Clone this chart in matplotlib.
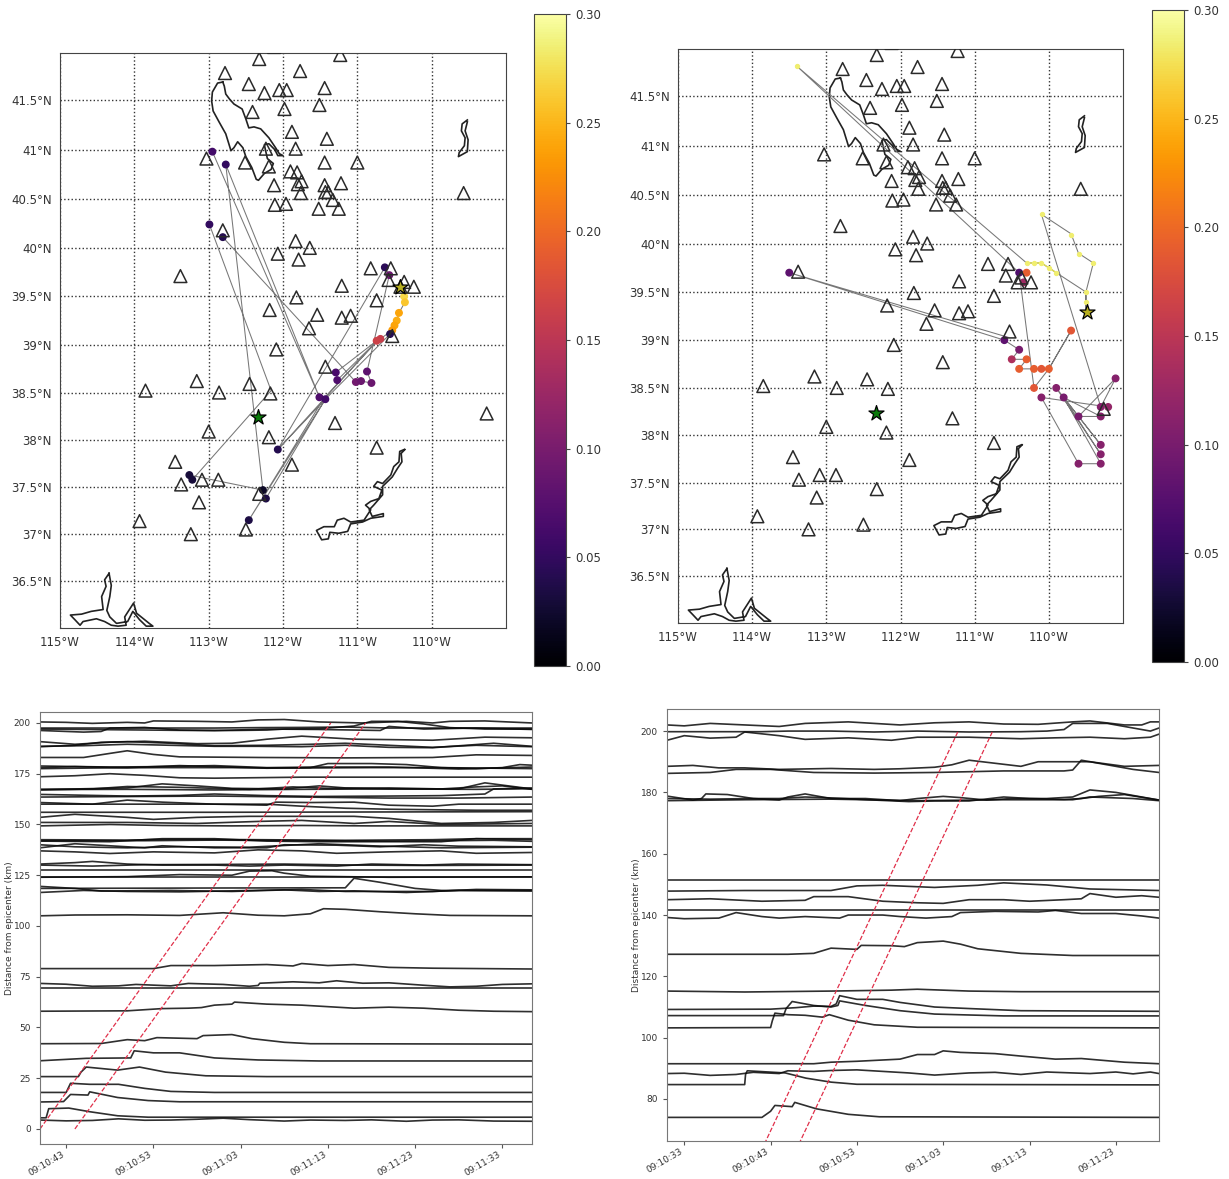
import numpy as np
import pandas as pd
import matplotlib
matplotlib.use('Agg')
import matplotlib.pyplot as plt
import matplotlib.dates as mdates

# stations, same for both maps
sta_lon = [-112.32,-111.23,-112.78,-111.77,-112.46,-112.25,-112.05,-111.95,-111.44,-111.51,-112.41,-111.98,-111.88,-111.41,-112.23,-111.83,-113.03,-112.51,-112.19,-111.44,-111.0,-111.90,-111.81,-111.75,-111.80,-112.12,-111.44,-111.22,-111.76,-111.43,-111.39,-111.33,-112.11,-111.96,-111.52,-111.25,-109.57,-112.81,-111.83,-111.64,-112.07,-111.79,-113.38,-110.82,-110.55,-110.58,-111.21,-110.37,-110.42,-110.24,-111.82,-110.74,-112.18,-111.54,-111.21,-111.09,-111.65,-110.53,-112.09,-111.43,-113.16,-112.45,-113.85,-112.86,-112.17,-111.30,-109.26,-113.0,-112.19,-110.74,-113.45,-111.88,-113.09,-112.87,-113.37,-112.32,-113.13,-113.93,-112.5,-113.24,-112.12]
sta_lat = [41.91,41.95,41.77,41.79,41.66,41.57,41.6,41.6,41.62,41.45,41.38,41.41,41.18,41.11,41.01,41.01,40.91,40.87,40.83,40.87,40.87,40.78,40.77,40.68,40.65,40.64,40.64,40.66,40.56,40.57,40.57,40.49,40.44,40.45,40.40,40.40,40.56,40.18,40.07,40.0,39.94,39.88,39.71,39.79,39.79,39.67,39.61,39.65,39.6,39.60,39.49,39.46,39.36,39.31,39.28,39.30,39.17,39.09,38.95,38.77,38.62,38.59,38.52,38.50,38.49,38.18,38.28,38.09,38.03,37.92,37.77,37.74,37.58,37.58,37.53,37.43,37.34,37.14,37.05,37.0,42.03]

# lake outlines
salt_lon = [-112.81,-112.88,-112.95,-112.96,-112.94,-112.86,-112.77,-112.70,-112.66,-112.61,-112.54,-112.50,-112.42,-112.36,-112.33,-112.25,-112.16,-112.13,-112.21,-112.24,-112.25,-112.19,-112.11,-112.07,-112.0,-112.05,-112.10,-112.19,-112.30,-112.39,-112.46,-112.50,-112.55,-112.66,-112.72,-112.77,-112.79,-112.81]
salt_lat = [41.68,41.67,41.58,41.49,41.39,41.28,41.16,40.99,41.02,41.08,41.02,40.93,40.82,40.70,40.69,40.76,40.80,40.86,40.91,41.01,41.05,41.06,41.0,40.94,40.94,40.96,41.02,41.12,41.21,41.23,41.22,41.31,41.41,41.46,41.51,41.56,41.64,41.68]
gorge_lon = [-109.52,-109.59,-109.60,-109.55,-109.56,-109.63,-109.64,-109.52,-109.51,-109.55,-109.52]
gorge_lat = [41.30,41.26,41.19,41.12,41.04,40.97,40.93,40.98,41.10,41.19,41.28]
powell_lon = [-110.37,-110.43,-110.44,-110.51,-110.55,-110.66,-110.73,-110.78,-110.67,-110.71,-110.82,-110.89,-110.82,-110.91,-111.09,-111.18,-111.27,-111.31,-111.45,-111.55,-111.48,-111.39,-111.37,-111.25,-111.13,-111.09,-110.93,-110.82,-110.65,-110.65,-110.80,-110.84,-110.78,-110.66,-110.66,-110.53,-110.46,-110.40,-110.41,-110.36]
powell_lat = [37.90,37.88,37.77,37.72,37.63,37.54,37.56,37.51,37.47,37.38,37.35,37.31,37.26,37.15,37.13,37.17,37.15,37.08,37.08,37.04,36.94,36.95,37.02,37.01,37.03,37.11,37.13,37.17,37.19,37.22,37.19,37.26,37.31,37.42,37.51,37.61,37.70,37.77,37.86,37.90]
mead_lon = [-114.34,-114.40,-114.38,-114.44,-114.42,-114.58,-114.71,-114.86,-114.80,-114.73,-114.69,-114.51,-114.40,-114.31,-114.22,-114.11,-114.13,-114.01,-113.97,-113.80,-113.75,-113.84,-113.93,-114.02,-114.09,-114.24,-114.33,-114.37,-114.33,-114.31,-114.34]
mead_lat = [36.58,36.51,36.44,36.33,36.19,36.17,36.14,36.13,36.08,36.02,36.06,36.09,36.06,36.02,36.01,36.02,36.11,36.26,36.15,36.04,36.01,36.01,36.08,36.17,36.06,36.04,36.11,36.18,36.33,36.45,36.58]

# left map: tremor path and points
path1_lon = [-110.42,-110.37,-110.36,-110.44,-110.47,-110.5,-110.53,-110.69,-110.74,-111.29,-111.27,-110.72,-112.07,-110.63,-110.57,-110.87,-110.81,-110.95,-111.02,-112.81,np.nan,-110.56,-111.43,-112.46,-111.45,-110.72,np.nan,-112.07,-111.43,np.nan,-112.95,-111.51,-112.77,-112.27,-113.26,-113.22,-112.16,-112.99,np.nan,-112.23,-111.43]
path1_lat = [39.6,39.5,39.44,39.33,39.25,39.2,39.15,39.06,39.04,38.71,38.63,39.05,37.90,39.8,39.72,38.72,38.60,38.62,38.61,40.11,np.nan,39.11,38.43,37.15,38.44,39.05,np.nan,37.90,38.43,np.nan,40.98,38.45,40.85,37.47,37.63,37.58,38.52,40.24,np.nan,37.38,38.43]
ev1_lon = [-110.37,-110.36,-110.44,-110.47,-110.5,-110.53,-110.69,-110.74,-112.95,-112.77,-112.99,-112.81,-110.63,-110.57,-110.56,-111.51,-111.43,-111.29,-111.27,-111.02,-110.95,-110.87,-110.81,-112.07,-113.26,-113.22,-112.27,-112.23,-112.46]
ev1_lat = [39.5,39.44,39.33,39.25,39.2,39.15,39.06,39.04,40.98,40.85,40.24,40.11,39.8,39.72,39.11,38.45,38.43,38.71,38.63,38.61,38.62,38.72,38.60,37.90,37.63,37.58,37.47,37.38,37.15]
ev1_val = [0.27,0.26,0.24,0.245,0.24,0.235,0.16,0.165,0.06,0.05,0.05,0.04,0.045,0.09,0.04,0.07,0.06,0.065,0.07,0.095,0.09,0.08,0.09,0.04,0.03,0.03,0.02,0.035,0.035]

# right map
path2_lon = [-109.5,-109.5,-109.4,-109.6,-109.7,-110.1,-109.3,-109.1,-109.6,-109.3,-109.8,-109.3,-109.9,-109.3,-109.8,-109.3,-109.6,-110.1,-109.2,np.nan,-109.5,-109.5,-109.9,-110.1,-110.3,-113.4,-110.4,-110.2,-110.0,-109.7,-110.0,-110.1,-110.2,-110.4,-110.3,-110.5,-110.4,-110.6,-113.5,-110.55]
path2_lat = [39.29,39.5,39.8,39.9,40.1,40.3,38.3,38.6,38.2,38.2,38.4,37.9,38.5,37.8,38.4,37.7,37.7,38.4,38.3,np.nan,39.29,39.5,39.7,39.8,39.8,41.8,39.7,38.5,38.7,39.1,38.7,38.7,38.7,38.7,38.8,38.8,38.9,39.0,39.7,39.03]
ev2_lon = [-110.4,-110.3,-110.34,-110.6,-113.5,-110.4,-110.5,-110.3,-110.4,-110.2,-110.1,-110.0,-110.2,-109.7,-109.9,-109.8,-110.1,-109.6,-109.3,-109.3,-109.2,-109.1,-109.3,-109.3,-109.3,-109.6]
ev2_lat = [39.7,39.7,39.6,39.0,39.7,38.9,38.8,38.8,38.7,38.7,38.7,38.7,38.5,39.1,38.5,38.4,38.4,38.2,38.2,38.3,38.3,38.6,37.9,37.8,37.7,37.7]
ev2_val = [0.07,0.19,0.13,0.08,0.08,0.10,0.14,0.19,0.19,0.19,0.185,0.19,0.185,0.185,0.11,0.10,0.11,0.10,0.11,0.11,0.12,0.11,0.11,0.11,0.11,0.11]
yellow_lon = [-113.4,-110.09,-109.4,-109.59,-109.7,-110.3,-110.2,-110.1,-110.0,-109.9,-109.5,-109.5]
yellow_lat = [41.8,40.3,39.8,39.89,40.09,39.8,39.8,39.8,39.75,39.7,39.5,39.4]

star_green = (-112.33, 38.24)
star1 = (-110.42, 39.6)
star2 = (-109.49, 39.29)

lon_ticks = [-115,-114,-113,-112,-111,-110]
lon_labels = ['115°W','114°W','113°W','112°W','111°W','110°W']
lat_ticks = [36.5,37,37.5,38,38.5,39,39.5,40,40.5,41,41.5]
lat_labels = ['36.5°N','37°N','37.5°N','38°N','38.5°N','39°N','39.5°N','40°N','40.5°N','41°N','41.5°N']
cb_ticks = [0,0.05,0.10,0.15,0.20,0.25,0.30]

# wiggle plots, each trace is (seconds after 09:10:00, km)
traces_left = [
 [(40,4.4),(43,4.0),(46,4.2),(49,5.0),(52,4.3),(55,4.4),(58,4.8),(61,5.3),(64,4.6),(68,3.9),(71,4.4),(75,4.2),(78,4.5),(82,3.8),(85,4.4),(88,4.5),(92,3.9),(96.4,3.8)],
 [(40,5.5),(40.7,5.5),(41,10),(43.3,10.3),(45.7,8.5),(48.9,6.5),(52.4,5.8),(96.4,5.8)],
 [(40,13.3),(42.7,13.5),(43.5,17),(45.5,16.7),(45.7,18.3),(48.9,15.5),(52.4,14),(56,13.4),(96.4,13.4)],
 [(40,18),(43,18),(43.5,22.5),(45.7,22),(49,22),(52,20),(55,18.5),(60,18),(96.4,18)],
 [(40,25.8),(44.4,25.8),(44.7,28),(45.3,30.5),(48.9,29),(51.4,30.5),(54.4,28),(59,26.2),(66,25.8),(96.4,25.8)],
 [(40,33.6),(45.3,34.8),(50.4,35),(50.8,38.5),(53,37.5),(56,37.5),(60,35),(65,34),(72,33.5),(96.4,33.5)],
 [(40,42),(47,42.1),(50,44),(52,43.5),(53.4,45),(58,44.5),(58.7,46),(62,46.5),(64.3,44.5),(68,42.7),(71,42),(96.4,41.8)],
 [(40,58),(50,58.2),(54,59.3),(57,59.5),(58.5,59.8),(60,61),(62,61.5),(62.3,62.5),(66,61.5),(70,61),(74,60),(76,59.5),(80,60),(84,59.5),(88,58.5),(92,58),(96.4,57.8)],
 [(40,69.3),(96.4,69.3)],
 [(40,71.7),(43,71.3),(46,70.3),(49,70.5),(51,71.2),(55,70.5),(57,71.7),(61,71.2),(64,70.3),(65,70.7),(65.2,71.8),(69,72.5),(72,72),(74,73),(77,71.8),(80,72),(84,70.8),(87,70),(90,70.3),(93,71.2),(96.4,71.5)],
 [(40,79),(53,79),(55,80.5),(60,80.5),(66,81),(69,80.3),(70,81.5),(73,80.5),(76,81),(80,79.6),(85,79.2),(96.4,78.8)],
 [(40,105),(44,105.4),(50,105.5),(56,105.2),(61,106.5),(65,105.3),(68,105),(71,106),(72.5,108.5),(75,108.2),(79,107),(83,106),(87,105.2),(96.4,105)],
 [(40,116.5),(45,117.5),(50,117),(56,116.8),(62,117.3),(68,117.8),(72,117),(76,117.3),(82,116.5),(88,117.5),(96.4,117.2)],
 [(40,119.5),(44,118.5),(47,117.2),(55,117.5),(62,117),(70,118),(75,117),(85,117),(90,118),(96.4,117.8)],
 [(40,118.5),(60,118.7),(75,118.8),(76,123.5),(79,121.5),(83,118.5),(86,117.5),(96.4,117.5)],
 [(40,124),(50,124.3),(56,125.3),(62,125),(64,127),(66.6,127.2),(68,126),(71,124.5),(80,124),(96.4,124.2)],
 [(40,124),(96.4,124)],
 [(40,127.8),(96.4,127.8)],
 [(40,130.5),(44,131.2),(46,131.8),(50,130.5),(54,130),(60,130),(64,129.5),(68,130),(74,129.5),(78,130.5),(84,130),(88,130.5),(96.4,130.2)],
 [(40,130),(46,129.5),(52,130.2),(60,130.3),(68,130.5),(76,130),(84,129.8),(96.4,130)],
 [(40,137),(44,136.5),(48,135.7),(53,136.5),(60,136),(65,137.5),(70,137),(74,135.8),(80,136.5),(86,137),(90,135.8),(96.4,136.2)],
 [(40,138.5),(44,140.5),(48,139.5),(52,138.5),(54,139.5),(60,138.5),(66,138.5),(68,140),(74,139.8),(79,139),(84,140),(88,139.3),(96.4,139)],
 [(40,140),(44,139),(50,138.5),(56,139),(64,138.8),(72,140.5),(78,139.5),(86,138.5),(96.4,138.8)],
 [(40,141.8),(48,141.5),(54,143),(60,143),(66,141.8),(72,141.5),(86,141.5),(90,143),(96.4,143)],
 [(40,142),(52,142),(60,142.3),(70,142),(80,141.8),(92,142.2),(96.4,141.7)],
 [(40,142.5),(50,142.3),(55,142.7),(65,142.5),(75,142.2),(85,142.5),(90,143),(96.4,142.5)],
 [(40,149.3),(48,150),(54,149.5),(62,149.3),(70,149.5),(78,149.3),(85,149.3),(96.4,149.3)],
 [(40,151),(50,151),(58,150.5),(65,151.5),(70,152),(76,150.5),(80,151.5),(86,150),(96.4,150.5)],
 [(40,153.5),(44,155),(50,153.5),(53,152.5),(58,153.5),(64,154),(72,154),(76,154),(80,153),(86,150.5),(92,151),(96.4,152)],
 [(40,156),(60,156),(96.4,156.3)],
 [(40,160),(60,160),(66,160),(70,159),(75,158),(80,157.5),(90,157),(96.4,157)],
 [(40,160.8),(46,160),(50,162),(54,161),(60,160),(66,159.5),(67,161),(71,160.8),(76,161),(80,159.5),(85,159),(88,160),(96.4,160)],
 [(40,163.5),(60,164),(70,163.5),(80,163),(88,163),(96.4,163.5)],
 [(40,164.8),(50,164),(56,164.3),(60,165),(66,164.2),(72,163.8),(80,164),(86,164.2),(91,165),(92,167.5),(96.4,168)],
 [(40,167.2),(50,167.3),(60,167),(70,167.3),(80,167.5),(90,167.3),(96.4,167.6)],
 [(40,167),(46,167.5),(50,168.7),(56,168.3),(64,167.3),(69,168.5),(73,167.8),(80,168),(86,167.5),(90,168.5),(93,169),(96.4,167.3)],
 [(40,167.3),(44,167.5),(50,168),(54,170),(58,169),(62,167.8),(68,167.5),(72,169),(75,168),(80,167.5),(88,167.5),(91,170.5),(96.4,167.5)],
 [(40,173.5),(44,174),(48,175),(52,174.2),(56,173),(60,172.8),(70,173.3),(96.4,173.3)],
 [(40,177.5),(46,177.8),(54,178),(62,178),(70,177.8),(78,178),(86,178),(96.4,177.5)],
 [(40,178.8),(48,178.3),(54,178.5),(60,179),(66,178),(72,178.3),(80,178.3),(88,177.3),(96.4,178.3)],
 [(40,178),(44,178.5),(50,178),(56,179),(60,178.5),(66,177.7),(71,178),(73,180),(78,180),(82,179.5),(86,178),(90,177.5),(93,178),(95,179.5),(96.4,179.2)],
 [(40,183),(45,183),(48,185),(50,186.3),(53,184.5),(56,183.3),(65,183),(75,182.8),(85,183),(90,184.3),(96.4,184)],
 [(40,188.5),(45,188.8),(50,189.5),(55,189),(60,188.5),(65,188.5),(70,188.3),(75,189),(80,188),(85,187.8),(92,190),(96.4,188.5)],
 [(40,188.3),(44,189),(47,190.5),(50,190.8),(55,190),(60,188.8),(66,189),(71,189.5),(75,190),(80,189),(85,188),(90,189),(96.4,188.3)],
 [(40,190.8),(44,189.5),(48,190.5),(52,191),(58,189.8),(62,190),(66,192),(70,193.5),(74,192.5),(76,192),(80,191.8),(85,191.5),(91,193),(96.4,192.7)],
 [(40,196.3),(45,195.5),(47,195.8),(48,197.5),(52,197.8),(56,196.5),(62,196.3),(66,196.5),(68,197),(72,197.2),(76,198.5),(78,200.8),(81,200.8),(84,199.5),(87,197.7),(91,197),(96.4,197)],
 [(40,197),(60,196.2),(66,197),(72,196.8),(79,196.3),(80,198.3),(84,197),(90,197.5),(96.4,196.8)],
 [(40,197.5),(60,197.5),(65,197.7),(70,197.8),(75,198),(80,197.5),(88,197.5),(96.4,197.5)],
 [(40,200.5),(43,200.3),(46,199.8),(50,200.3),(52,200),(53,201),(58,200.8),(62,200.5),(65,201.5),(68,201.7),(72,200.5),(77,200),(82,200.8),(85,200),(87,200.8),(91,201),(96.4,200)],
]

traces_right = [
 [(31,74),(42,74),(43,76),(43.5,77.9),(45.5,77.5),(45.8,78.9),(48.3,76.8),(52,75),(55.6,74.2),(88,74)],
 [(31,84.7),(40,84.7),(40.1,88),(40.3,89.2),(44.7,88.5),(47.1,86.8),(50,85.5),(53,84.8),(88,84.6)],
 [(31,88.3),(33,88.4),(36,87.7),(39,88),(41,88.7),(44,88.3),(45,89.2),(48,89),(50,89.3),(53,89.5),(56,89),(59,88.5),(62,87.8),(66,88.5),(69,88.7),(72,88),(75,88.8),(78,88.5),(80,88.3),(83,88.8),(85,88.2),(87,88.8),(88,88.3)],
 [(31,91.5),(48,91.5),(50,92),(53,92.3),(58,93),(60,94.5),(62,94.5),(63,95.7),(65,95.2),(69,94.8),(72,94),(76,93),(79,93.2),(84,92),(88,91.5)],
 [(31,103.2),(43,103.3),(43.2,105.5),(43.5,108),(45,107.5),(47,107.3),(49,106.7),(49.8,107.5),(52,105.7),(55,104.2),(60,103.4),(88,103.2)],
 [(31,107.2),(44.5,107.2),(44.8,109.5),(45.5,111.8),(48,110.5),(50,110),(50.8,110.5),(51,112),(54,110.5),(58,108.8),(62,107.7),(70,107.1),(88,107.1)],
 [(31,109.2),(43,109.3),(46,109.8),(48,110.3),(50,110.2),(50.6,111),(51,113.7),(53,112.5),(56,112.5),(58,111.5),(62,110),(66,109.5),(72,108.8),(88,108.6)],
 [(31,115.2),(40,114.9),(50,115.2),(57,115.5),(60,115.8),(66,115.2),(72,115),(80,115),(88,115)],
 [(31,127.2),(45,127.2),(48,127.5),(50,129.2),(53,128.8),(53.5,130.1),(57,130),(58.5,129.7),(60,131),(63,131.5),(65,130.5),(67,129),(72,127.5),(78,126.8),(88,126.8)],
 [(31,139.2),(33,138.8),(37,139),(39,140.8),(42,139.5),(44,139),(47,139.5),(51,139),(52,140),(56,140),(58,139.5),(61,139),(64,139.5),(65,140.8),(69,141.2),(74,141),(76,141.5),(79,140.5),(83,140.5),(86,139.7),(88,139)],
 [(31,141.8),(88,141.8)],
 [(31,145),(36,145.3),(42,144.5),(47,144.8),(48,146),(52,146),(56,144.5),(60,144),(63,143.8),(66,145),(70,145),(73,144.5),(77,145),(79,145.3),(80,147),(83,145.8),(86,146.3),(88,145.8)],
 [(31,147.8),(40,148),(50,148),(53,149.5),(56,149.7),(62,149),(67,149.7),(70,150.5),(75,149.8),(80,148.5),(88,148)],
 [(31,151.5),(88,151.5)],
 [(31,178.8),(34,177.5),(35,178),(35.5,179.5),(38,179.3),(41,178),(44,177.5),(45,178.5),(47,179.5),(50,178),(54,178),(58,177.3),(60,178),(63,178.7),(65,178.3),(68,177.5),(71,178),(75,178),(78,178.5),(80,180.8),(83,180),(88,177.5)],
 [(31,178),(36,177.8),(41,178),(44,178),(47,178.5),(50,178.2),(55,177.5),(59,177),(62,177.2),(66,177.2),(70,178.5),(73,178),(77,177.7),(79,178),(81,178.7),(84,179.3),(88,177.5)],
 [(31,177.3),(40,177.6),(50,177.8),(60,177.3),(70,177.6),(78,177.6),(80,178.5),(85,178),(88,177.3)],
 [(31,186.2),(36,186.5),(39,187.5),(43,187.5),(48,186.5),(55,186.3),(62,186.5),(70,187),(77,187),(78,187.3),(79,190.5),(81,189.5),(85,187.5),(88,186.5)],
 [(31,188.5),(34,188.8),(37,188),(40,188),(44,187.5),(50,187.8),(55,187.5),(58,187.7),(62,188.2),(64,189),(66,190.5),(69,189.5),(72,188.5),(74,190),(77,190),(80,190),(84,188.5),(88,188.8)],
 [(31,197),(33,198.5),(36,197.7),(39,198),(40,199.7),(44,198.5),(47,197.3),(52,197.8),(57,197),(60,198),(66,198),(72,197.5),(76,197.8),(80,198),(84,197.5),(87,198),(88,199)],
 [(31,199.8),(42,199.8),(45,200),(50,200),(55,199.7),(60,200),(66,199.7),(72,199.8),(75,200),(77,200.5),(78,202.5),(82,202.5),(85,201),(87,200),(88,201)],
 [(31,202),(33,201.7),(36,202.5),(40,202),(44,201.5),(47,202.5),(52,203),(58,202),(62,202.7),(66,203),(70,202.3),(74,202.2),(78,203),(80,203.3),(84,202),(86,202),(87,203),(88,203)],
]

# red 6 km/s lines: origin second and distances
red_left = [40, 44]
red_right = [31.4, 35.4]
red_dist = [0, 200]
red_speed = 6.0

left_secs = [43,53,63,73,83,93]
right_secs = [33,43,53,63,73,83]
left_yticks = [0,25,50,75,100,125,150,175,200]
right_yticks = [80,100,120,140,160,180,200]

W, H = 1229, 1179
fig = plt.figure(figsize=(W/100, H/100), dpi=100)


def px_axes(x0, y0, x1, y1):
    return fig.add_axes([x0/W, 1-y1/H, (x1-x0)/W, (y1-y0)/H])


def merc(lat):
    return np.log(np.tan(np.pi/4 + np.radians(lat)/2))


def inv_merc(y):
    return np.degrees(2*np.arctan(np.exp(y)) - np.pi/2)


def to_time(secs):
    return pd.Timestamp('2018-01-01 09:10:00') + pd.to_timedelta(np.asarray(secs, dtype=float), unit='s')


def draw_map(ax):
    for lons, lats in [(salt_lon, salt_lat), (gorge_lon, gorge_lat), (powell_lon, powell_lat), (mead_lon, mead_lat)]:
        ax.plot(lons, lats, color='#222222', lw=1.2, zorder=2)
    ax.scatter(sta_lon, sta_lat, marker='^', s=85, facecolors='none', edgecolors='#2a2a2a', linewidths=1.1, zorder=5)
    ax.set_yscale('function', functions=(merc, inv_merc))
    ax.set_xlim(-115, -109)
    ax.set_ylim(35.99, 41.97)
    ax.set_xticks(lon_ticks)
    ax.set_xticklabels(lon_labels, fontsize=8.5, color='#333333')
    ax.set_yticks(lat_ticks)
    ax.set_yticklabels(lat_labels, fontsize=8.5, color='#333333')
    ax.minorticks_off()
    ax.tick_params(length=0, pad=6)
    ax.grid(True, color='#333333', ls=':', lw=1.0)
    ax.set_axisbelow(True)
    for s in ax.spines.values():
        s.set_color('#444444')


def draw_cbar(mappable, cax):
    cb = fig.colorbar(mappable, cax=cax, ticks=cb_ticks, format='%.2f')
    cb.ax.tick_params(labelsize=8.5, labelcolor='#333333', length=3, color='#444444')
    cb.outline.set_edgecolor('#444444')


def draw_wiggles(ax, traces, red_t0, xlim, ylim, secs, yticks):
    for tr in traces:
        t, d = zip(*tr)
        ax.plot(to_time(t), d, color='#0a0a0a', lw=1.2, alpha=0.85)
    for t0 in red_t0:
        ax.plot(to_time([t0 + x/red_speed for x in red_dist]), red_dist, color='#e0304a', ls='--', lw=0.9)
    ax.set_xlim(to_time(xlim[0]), to_time(xlim[1]))
    ax.set_ylim(*ylim)
    ax.set_yticks(yticks)
    ax.set_xticks(to_time(secs))
    ax.xaxis.set_major_formatter(mdates.DateFormatter('%H:%M:%S'))
    ax.tick_params(labelsize=6.5, labelcolor='#333333', color='#555555', length=3)
    ax.tick_params(axis='x', pad=1.5)
    plt.setp(ax.get_xticklabels(), rotation=30, ha='right')
    ax.set_ylabel('Distance from epicenter (km)', fontsize=6.5, color='#333333', labelpad=0)
    for s in ax.spines.values():
        s.set_color('#777777')


# top left map
ax1 = px_axes(60, 53, 506, 628)
ax1.plot(path1_lon, path1_lat, color='#777777', lw=0.75, zorder=3)
sc1 = ax1.scatter(ev1_lon, ev1_lat, c=ev1_val, cmap='inferno', vmin=0, vmax=0.3, s=22, zorder=4)
ax1.scatter(*star_green, marker='*', s=130, color='#0a7a0a', edgecolors='k', linewidths=0.9, zorder=6)
ax1.scatter(*star1, marker='*', s=130, color='#b8b020', edgecolors='k', linewidths=0.9, zorder=6)
draw_map(ax1)
draw_cbar(sc1, px_axes(534, 14, 566, 666))

# top right map
ax2 = px_axes(678, 49, 1123, 623)
ax2.plot(path2_lon, path2_lat, color='#777777', lw=0.75, zorder=3)
sc2 = ax2.scatter(ev2_lon, ev2_lat, c=ev2_val, cmap='inferno', vmin=0, vmax=0.3, s=22, zorder=4)
ax2.scatter(yellow_lon, yellow_lat, color='#f0ee70', s=8, zorder=4)
ax2.plot(yellow_lon[5:10], yellow_lat[5:10], color='#e0dc50', lw=1.0, zorder=3)
ax2.scatter(*star_green, marker='*', s=130, color='#0a7a0a', edgecolors='k', linewidths=0.9, zorder=6)
ax2.scatter(*star2, marker='*', s=130, color='#b8b020', edgecolors='k', linewidths=0.9, zorder=6)
draw_map(ax2)
draw_cbar(sc2, px_axes(1152, 10, 1184, 662))

# bottom panels
ax3 = px_axes(40, 712, 532, 1144)
draw_wiggles(ax3, traces_left, red_left, (40, 96.4), (-7.4, 205.4), left_secs, left_yticks)
ax4 = px_axes(667, 709, 1159, 1141)
draw_wiggles(ax4, traces_right, red_right, (31, 88), (66.3, 207.2), right_secs, right_yticks)

fig.savefig('out.png', dpi=100)
